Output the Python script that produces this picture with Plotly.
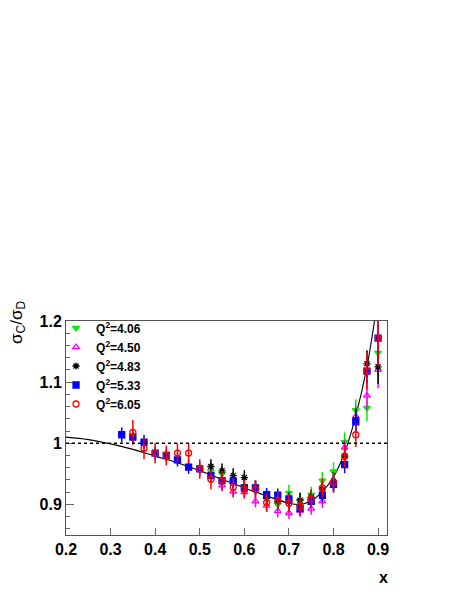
import plotly.graph_objects as go

# Q^2 = 4.06 (green, filled triangle down)
x_406 = [0.525, 0.55, 0.575, 0.6, 0.625, 0.65, 0.675, 0.7, 0.725, 0.75, 0.775, 0.8, 0.825, 0.85, 0.875, 0.9]
y_406 = [0.954, 0.950, 0.936, 0.930, 0.925, 0.912, 0.900, 0.919, 0.906, 0.916, 0.939, 0.954, 1.002, 1.054, 1.058, 1.148]
e_406 = [0.012, 0.012, 0.012, 0.012, 0.012, 0.012, 0.013, 0.013, 0.013, 0.013, 0.014, 0.015, 0.016, 0.018, 0.022, 0.030]

# Q^2 = 4.50 (magenta, open triangle up)
x_450 = [0.55, 0.575, 0.6, 0.625, 0.65, 0.675, 0.7, 0.725, 0.75, 0.775, 0.8, 0.825, 0.85, 0.875, 0.9]
y_450 = [0.931, 0.921, 0.920, 0.905, 0.898, 0.889, 0.886, 0.890, 0.893, 0.905, 0.935, 0.993, 1.044, 1.078, 1.120]
e_450 = [0.010, 0.010, 0.010, 0.010, 0.010, 0.010, 0.010, 0.010, 0.010, 0.011, 0.012, 0.014, 0.018, 0.024, 0.030]

# Q^2 = 4.83 (black, asterisk)
x_483 = [0.525, 0.55, 0.575, 0.6, 0.625, 0.65, 0.675, 0.7, 0.725, 0.75, 0.775, 0.8, 0.825, 0.85, 0.875, 0.9]
y_483 = [0.962, 0.955, 0.947, 0.944, 0.927, 0.910, 0.905, 0.905, 0.907, 0.912, 0.925, 0.938, 0.979, 1.039, 1.130, 1.125]
e_483 = [0.012, 0.012, 0.012, 0.012, 0.012, 0.012, 0.012, 0.012, 0.012, 0.012, 0.013, 0.014, 0.016, 0.018, 0.022, 0.028]

# Q^2 = 5.33 (blue, filled square)
x_533 = [0.325, 0.35, 0.375, 0.4, 0.425, 0.45, 0.475, 0.5, 0.525, 0.55, 0.575, 0.6, 0.625, 0.65,
         0.675, 0.7, 0.725, 0.75, 0.775, 0.8, 0.825, 0.85, 0.875, 0.9]
y_533 = [1.014, 1.010, 1.002, 0.984, 0.980, 0.973, 0.961, 0.958, 0.947, 0.939, 0.938, 0.927, 0.927, 0.916,
         0.915, 0.909, 0.893, 0.905, 0.915, 0.933, 0.965, 1.035, 1.118, 1.172]
e_533 = [0.012, 0.012, 0.012, 0.011, 0.011, 0.011, 0.011, 0.011, 0.011, 0.011, 0.011, 0.011, 0.011, 0.011,
         0.011, 0.011, 0.011, 0.011, 0.012, 0.013, 0.014, 0.016, 0.020, 0.030]

# Q^2 = 6.05 (red, open circle)
x_605 = [0.35, 0.375, 0.4, 0.425, 0.45, 0.475, 0.5, 0.525, 0.55, 0.575, 0.6, 0.625, 0.65,
         0.675, 0.7, 0.725, 0.75, 0.775, 0.8, 0.825, 0.85, 0.875, 0.9]
y_605 = [1.018, 0.992, 0.984, 0.980, 0.984, 0.984, 0.958, 0.941, 0.939, 0.928, 0.925, 0.925, 0.903,
         0.906, 0.902, 0.897, 0.909, 0.927, 0.936, 0.979, 1.014, 1.118, 1.172]
e_605 = [0.020, 0.018, 0.017, 0.016, 0.016, 0.016, 0.016, 0.016, 0.016, 0.015, 0.015, 0.015, 0.015,
         0.015, 0.015, 0.015, 0.015, 0.016, 0.017, 0.018, 0.020, 0.030, 0.045]

# model curve
x_curve = [0.2, 0.25, 0.3, 0.35, 0.4, 0.45, 0.5, 0.55, 0.6, 0.65, 0.7, 0.725, 0.75, 0.775, 0.8, 0.825, 0.85, 0.875, 0.9]
y_curve = [1.010, 1.006, 0.999, 0.990, 0.979, 0.968, 0.955, 0.941, 0.927, 0.914, 0.902, 0.900, 0.906, 0.921, 0.945, 0.985, 1.045, 1.125, 1.240]

series = [
    ('Q<sup>2</sup>=4.06', x_406, y_406, e_406, '#00ee00', 'triangle-down'),
    ('Q<sup>2</sup>=4.50', x_450, y_450, e_450, '#ff00ff', 'triangle-up-open'),
    ('Q<sup>2</sup>=4.83', x_483, y_483, e_483, '#000000', 'asterisk-open'),
    ('Q<sup>2</sup>=5.33', x_533, y_533, e_533, '#0000ff', 'square'),
    ('Q<sup>2</sup>=6.05', x_605, y_605, e_605, '#ff0000', 'circle-open'),
]

fig = go.Figure()

# 理论曲线
fig.add_trace(go.Scatter(
    x=x_curve, y=y_curve, mode='lines', line=dict(color='black', width=1.1, shape='spline'),
    showlegend=False, hoverinfo='skip'
))

for name, xs, ys, es, color, symbol in series:
    fig.add_trace(go.Scatter(
        x=xs, y=ys, mode='markers', name=name,
        marker=dict(symbol=symbol, size=6, color=color, line=dict(color=color, width=1.3)),
        error_y=dict(type='data', array=es, color=color, thickness=1.5, width=0),
    ))

fig.add_hline(y=1.0, line=dict(color='black', width=1.5, dash='dot'))

axis_font = dict(family='Liberation Sans, Arial', size=16, color='black', weight='bold')

fig.update_layout(
    width=463, height=599,
    margin=dict(l=58, r=84, t=313, b=72),
    plot_bgcolor='white', paper_bgcolor='white',
    font=dict(family='Liberation Sans, Arial', color='black'),
    legend=dict(
        x=-0.031, y=1.035, xanchor='left', yanchor='top',
        bgcolor='rgba(0,0,0,0)', borderwidth=0,
        font=dict(family='Liberation Sans, Arial', size=12, color='black', weight='bold'),
        tracegroupgap=0, itemwidth=30,
    ),
    xaxis=dict(
        range=[0.2, 0.92], tick0=0.2, dtick=0.1, ticks='inside', ticklen=7,
        tickcolor='#666', showgrid=False, zeroline=False,
        showline=True, linecolor='#555', linewidth=1, mirror=True,
        tickfont=axis_font, fixedrange=True,
    ),
    yaxis=dict(
        range=[0.85, 1.2], tick0=0.9, dtick=0.1, ticks='inside', ticklen=8,
        tickcolor='#666', showgrid=False, zeroline=False,
        showline=True, linecolor='#555', linewidth=1, mirror=True,
        tickfont=axis_font, fixedrange=True,
        minor=dict(ticks='inside', dtick=0.02, tick0=0.9, ticklen=4, tickcolor='#666'),
    ),
    annotations=[
        dict(text='σ<sub>C</sub>/σ<sub>D</sub>', textangle=-90, xref='paper', yref='paper',
             x=-0.15, y=1.105, xanchor='center', yanchor='top', showarrow=False,
             font=dict(family='Liberation Sans, Arial', size=17, color='black')),
        dict(text='<b>x</b>', xref='paper', yref='paper', x=0.99, y=-0.2,
             xanchor='center', yanchor='middle', showarrow=False,
             font=dict(family='Liberation Sans, Arial', size=16, color='black')),
    ],
)

fig.write_html('out.html')
